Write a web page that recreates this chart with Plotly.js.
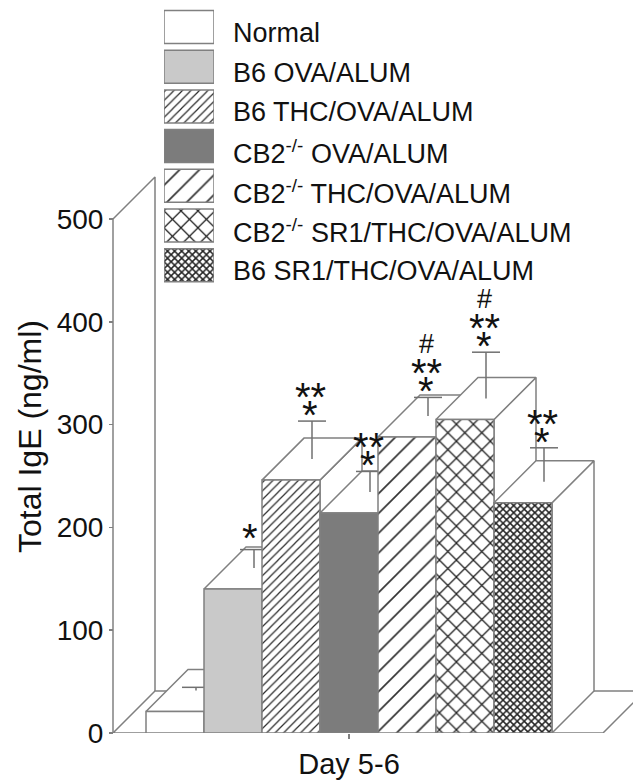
<!DOCTYPE html>
<html><head><meta charset="utf-8">
<script src="https://cdn.plot.ly/plotly-3.0.1.min.js"></script>
<style>html,body{margin:0;padding:0;background:#fff;} #chart{width:633px;height:781px;}</style>
</head><body><div id="chart"></div>
<script>
// ---------- data ----------
const groups = ['Normal', 'B6 OVA/ALUM', 'B6 THC/OVA/ALUM', 'CB2<sup>-/-</sup> OVA/ALUM',
  'CB2<sup>-/-</sup> THC/OVA/ALUM', 'CB2<sup>-/-</sup> SR1/THC/OVA/ALUM', 'B6 SR1/THC/OVA/ALUM'];
const igeMean = [21, 140, 246, 214, 288, 305, 224];
const igeSem  = [3, 18, 37, 20, 18, 45, 33];
const sigStar = ['', '*', '***', '***', '***', '***', '***'];
const sigHash = ['', '', '', '', '#', '#', ''];
const yTicks = [0, 100, 200, 300, 400, 500];
const xLabel = 'Day 5-6';
const yTitle = 'Total IgE (ng/ml)';

// ---------- styles ----------
const fillColor = ['#ffffff', '#c9c9c9', '#ffffff', '#7c7c7c', '#ffffff', '#ffffff', '#ffffff'];
const patShape  = ['', '', '/', '', '/', 'x', 'x'];
const patSize   = [8, 8, 6, 8, 14, 12, 5];
const patSolid  = [0.3, 0.3, 0.2, 0.3, 0.12, 0.2, 0.5];
const patFg     = ['#000', '#000', '#2a2a2a', '#000', '#333', '#222', '#222'];
const edge = '#808080';
const FONT = 'Liberation Sans, Arial, sans-serif';

// ---------- geometry (layout) ----------
const W = 633, H = 781, M = {l: 100, r: 0, t: 0, b: 48};
const plotW = W - M.l - M.r, plotH = H - M.t - M.b;
const pxPerBar = 58, pxPerUnit = 1.028, firstCenter = 75;
const xr = [-firstCenter / pxPerBar, (plotW - firstCenter) / pxPerBar];
const yr = [0, plotH / pxPerUnit];
const dX = 42 / pxPerBar, dY = 42 / pxPerUnit;
const axisX = xr[0] + 13 / pxPerBar;
const floorR = axisX + 490 / pxPerBar;
const yTop = yTicks[yTicks.length - 1];
const capHalf = 14 / pxPerBar;

function patternOf(i) {
  return patShape[i] ? {shape: patShape[i], size: patSize[i], solidity: patSolid[i],
    fgcolor: patFg[i], bgcolor: fillColor[i], fillmode: 'replace'} : null;
}

const traces = [];
function poly(x, y, fill, pattern) {
  const t = {type: 'scatter', mode: 'lines', x: x, y: y, fill: 'toself', fillcolor: fill,
    line: {color: edge, width: 1.5}, hoverinfo: 'skip', showlegend: false, xaxis: 'x', yaxis: 'y'};
  if (pattern) t.fillpattern = pattern;
  return t;
}
// floor and walls
traces.push(poly([axisX, floorR, floorR + dX, axisX + dX, axisX], [0, 0, dY, dY, 0], '#ffffff'));
traces.push({type: 'scatter', mode: 'lines', x: [axisX + dX, axisX + dX, axisX], y: [dY, yTop + dY, yTop],
  line: {color: edge, width: 1.5}, hoverinfo: 'skip', showlegend: false});
traces.push({type: 'scatter', mode: 'lines', x: [axisX, axisX], y: [0, yTop],
  line: {color: edge, width: 1.5}, hoverinfo: 'skip', showlegend: false});

// bars
groups.forEach((g, i) => {
  const v = igeMean[i], e = igeSem[i], L = i - 0.5, R = i + 0.5;
  traces.push(poly([R, R + dX, R + dX, R, R], [0, dY, v + dY, v, 0], '#ffffff'));
  traces.push(poly([L, R, R + dX, L + dX, L], [v, v, v + dY, v + dY, v], '#ffffff'));
  traces.push(poly([L, R, R, L, L], [0, 0, v, v, 0], fillColor[i], patternOf(i)));
  const cx = i + dX / 2, b = v + dY / 2, t = v + e + dY / 2;
  traces.push({type: 'scatter', mode: 'lines', x: [cx, cx, null, cx - capHalf, cx + capHalf],
    y: [b, t, null, t, t], line: {color: '#707070', width: 1.5}, hoverinfo: 'skip', showlegend: false});
});

// legend swatches (separate small subplot)
groups.forEach((g, i) => {
  const mk = {color: fillColor[i], line: {color: edge, width: 1.5}};
  const p = patternOf(i);
  if (p) mk.pattern = p;
  traces.push({type: 'bar', orientation: 'h', xaxis: 'x2', yaxis: 'y2', name: g,
    y: [i], x: [1], base: 0, width: 0.83, marker: mk, hoverinfo: 'skip', showlegend: false});
});

const annotations = [];
const starFont = {family: FONT, size: 40, color: '#111'};
groups.forEach((g, i) => {
  annotations.push({xref: 'paper', yref: 'y2', x: (231 - M.l) / plotW, y: i, xanchor: 'left', yanchor: 'middle',
    yshift: -6, text: g, showarrow: false, font: {family: FONT, size: 27, color: '#111'}});
  const cx = i + dX / 2, t = igeMean[i] + igeSem[i] + dY / 2;
  const s = sigStar[i];
  if (s === '*') {
    annotations.push({x: cx - 4 / pxPerBar, y: t, text: '*', showarrow: false, yanchor: 'middle', yshift: 12,
      font: starFont});
  } else if (s === '***') {
    annotations.push({x: cx - 2 / pxPerBar, y: t, text: '*', showarrow: false, yanchor: 'middle', yshift: 6,
      font: starFont});
    annotations.push({x: cx - 2 / pxPerBar, y: t, text: '**', showarrow: false, yanchor: 'middle', yshift: 24,
      font: starFont});
  }
  if (sigHash[i]) {
    annotations.push({x: cx - 2 / pxPerBar, y: t, text: sigHash[i], showarrow: false, yanchor: 'middle', yshift: 53,
      font: {family: FONT, size: 27, color: '#111'}});
  }
});
annotations.push({xref: 'paper', yref: 'paper', x: (30 - M.l) / plotW, y: 1 - 437 / plotH, text: yTitle,
  xanchor: 'center', yanchor: 'middle', textangle: -90, showarrow: false, font: {family: FONT, size: 32, color: '#111'}});

const layout = {
  width: W, height: H, margin: M, paper_bgcolor: '#fff', plot_bgcolor: 'rgba(0,0,0,0)',
  showlegend: false, font: {family: FONT, color: '#111'},
  xaxis: {range: xr, tickvals: [(groups.length - 1) / 2], ticktext: [xLabel], ticks: 'outside', ticklen: 5,
    tickwidth: 1.5, tickcolor: edge, showline: false, showgrid: false, zeroline: false,
    tickfont: {family: FONT, size: 29, color: '#111'}, fixedrange: true},
  yaxis: {range: yr, anchor: 'free', position: 13 / plotW, tickvals: yTicks, ticks: 'outside', ticklen: 4,
    tickwidth: 1.5, tickcolor: edge, showline: false, showgrid: false, zeroline: false,
    tickfont: {family: FONT, size: 28, color: '#111'}, fixedrange: true},
  xaxis2: {domain: [(164 - M.l) / plotW, (214 - M.l) / plotW], range: [0, 1], visible: false, anchor: 'y2'},
  yaxis2: {domain: [1 - 285.05 / plotH, 1 - 7.15 / plotH], range: [6.5, -0.5], visible: false, anchor: 'x2'},
  annotations: annotations
};
Plotly.newPlot('chart', traces, layout, {displayModeBar: false, staticPlot: true});
</script></body></html>
